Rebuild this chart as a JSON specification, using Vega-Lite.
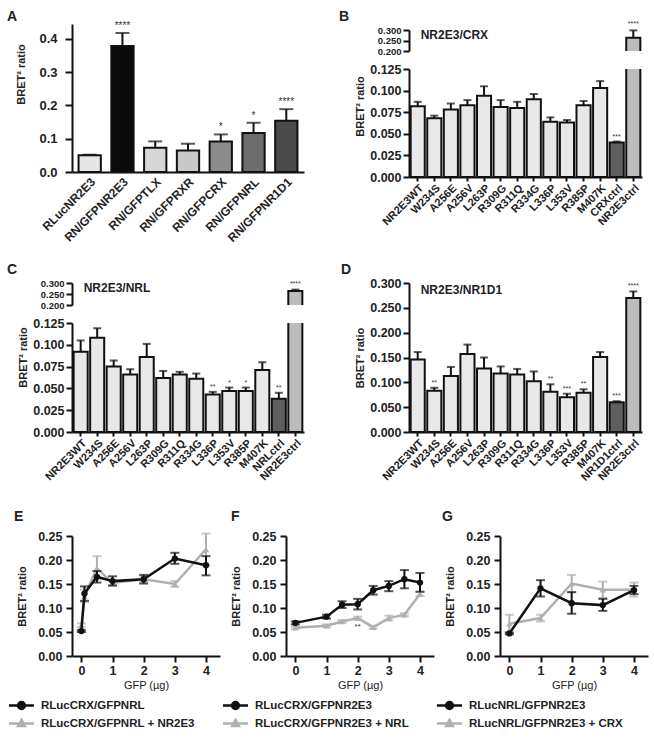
{
"$schema": "https://vega.github.io/schema/vega-lite/v6.json",
"padding": {"left": 7, "top": 10, "right": 5, "bottom": 5},
"config": {
  "view": {"stroke": null},
  "font": "Liberation Sans",
  "axis": {"grid": false, "domainColor": "#111", "domainWidth": 2, "tickColor": "#111", "tickWidth": 2, "tickSize": 6, "labelFont": "Liberation Sans", "labelFontWeight": "bold", "labelFontSize": 12.5, "labelColor": "#222", "labelPadding": 2, "labelOverlap": false, "titleFont": "Liberation Sans", "titleFontWeight": "bold", "titleFontSize": 11, "titleColor": "#222"},
  "title": {"anchor": "start", "frame": "group", "font": "Liberation Sans", "fontSize": 14, "fontWeight": "bold", "color": "#222"}
},
"datasets": {
  "a": [
    {"n": "RLucNR2E3", "v": 0.050, "hi": 0.052, "sig": ""},
    {"n": "RN/GFPNR2E3", "v": 0.379, "hi": 0.418, "sig": "****"},
    {"n": "RN/GFPTLX", "v": 0.073, "hi": 0.092, "sig": ""},
    {"n": "RN/GFPRXR", "v": 0.065, "hi": 0.085, "sig": ""},
    {"n": "RN/GFPCRX", "v": 0.092, "hi": 0.113, "sig": "*"},
    {"n": "RN/GFPNRL", "v": 0.117, "hi": 0.148, "sig": "*"},
    {"n": "RN/GFPNR1D1", "v": 0.154, "hi": 0.189, "sig": "****"}
  ],
  "b": [
    {"n": "NR2E3WT", "k": "m", "v": 0.082, "hi": 0.087, "sig": ""},
    {"n": "W234S", "k": "m", "v": 0.068, "hi": 0.071, "sig": ""},
    {"n": "A256E", "k": "m", "v": 0.078, "hi": 0.085, "sig": ""},
    {"n": "A256V", "k": "m", "v": 0.083, "hi": 0.089, "sig": ""},
    {"n": "L263P", "k": "m", "v": 0.094, "hi": 0.105, "sig": ""},
    {"n": "R309G", "k": "m", "v": 0.081, "hi": 0.089, "sig": ""},
    {"n": "R311Q", "k": "m", "v": 0.080, "hi": 0.087, "sig": ""},
    {"n": "R334G", "k": "m", "v": 0.090, "hi": 0.096, "sig": ""},
    {"n": "L336P", "k": "m", "v": 0.064, "hi": 0.069, "sig": ""},
    {"n": "L353V", "k": "m", "v": 0.063, "hi": 0.066, "sig": ""},
    {"n": "R385P", "k": "m", "v": 0.083, "hi": 0.088, "sig": ""},
    {"n": "M407K", "k": "m", "v": 0.103, "hi": 0.111, "sig": ""},
    {"n": "CRXctrl", "k": "p", "v": 0.040, "hi": 0.041, "sig": "***"},
    {"n": "NR2E3ctrl", "k": "s", "v": 0.263, "hi": 0.298, "sig": "****"}
  ],
  "c": [
    {"n": "NR2E3WT", "k": "m", "v": 0.092, "hi": 0.105, "sig": ""},
    {"n": "W234S", "k": "m", "v": 0.108, "hi": 0.119, "sig": ""},
    {"n": "A256E", "k": "m", "v": 0.075, "hi": 0.082, "sig": ""},
    {"n": "A256V", "k": "m", "v": 0.066, "hi": 0.072, "sig": ""},
    {"n": "L263P", "k": "m", "v": 0.086, "hi": 0.101, "sig": ""},
    {"n": "R309G", "k": "m", "v": 0.062, "hi": 0.070, "sig": ""},
    {"n": "R311Q", "k": "m", "v": 0.066, "hi": 0.069, "sig": ""},
    {"n": "R334G", "k": "m", "v": 0.061, "hi": 0.067, "sig": ""},
    {"n": "L336P", "k": "m", "v": 0.043, "hi": 0.046, "sig": "**"},
    {"n": "L353V", "k": "m", "v": 0.047, "hi": 0.051, "sig": "*"},
    {"n": "R385P", "k": "m", "v": 0.047, "hi": 0.051, "sig": "*"},
    {"n": "M407K", "k": "m", "v": 0.071, "hi": 0.080, "sig": ""},
    {"n": "NRLctrl", "k": "p", "v": 0.038, "hi": 0.045, "sig": "**"},
    {"n": "NR2E3ctrl", "k": "s", "v": 0.264, "hi": 0.270, "sig": "****"}
  ],
  "d": [
    {"n": "NR2E3WT", "k": "m", "v": 0.146, "hi": 0.161, "sig": ""},
    {"n": "W234S", "k": "m", "v": 0.083, "hi": 0.089, "sig": "**"},
    {"n": "A256E", "k": "m", "v": 0.113, "hi": 0.131, "sig": ""},
    {"n": "A256V", "k": "m", "v": 0.157, "hi": 0.176, "sig": ""},
    {"n": "L263P", "k": "m", "v": 0.128, "hi": 0.150, "sig": ""},
    {"n": "R309G", "k": "m", "v": 0.118, "hi": 0.132, "sig": ""},
    {"n": "R311Q", "k": "m", "v": 0.116, "hi": 0.127, "sig": ""},
    {"n": "R334G", "k": "m", "v": 0.102, "hi": 0.122, "sig": ""},
    {"n": "L336P", "k": "m", "v": 0.081, "hi": 0.096, "sig": "**"},
    {"n": "L353V", "k": "m", "v": 0.070, "hi": 0.077, "sig": "***"},
    {"n": "R385P", "k": "m", "v": 0.079, "hi": 0.086, "sig": "**"},
    {"n": "M407K", "k": "m", "v": 0.151, "hi": 0.161, "sig": ""},
    {"n": "NR1D1ctrl", "k": "p", "v": 0.060, "hi": 0.062, "sig": "***"},
    {"n": "NR2E3ctrl", "k": "s", "v": 0.270, "hi": 0.283, "sig": "****"}
  ],
  "e": [
    {"s": "RLucCRX/GFPNRL", "x": 0, "v": 0.052, "lo": 0.050, "hi": 0.054, "sig": ""},
    {"s": "RLucCRX/GFPNRL", "x": 0.1, "v": 0.130, "lo": 0.115, "hi": 0.145, "sig": ""},
    {"s": "RLucCRX/GFPNRL", "x": 0.5, "v": 0.165, "lo": 0.153, "hi": 0.177, "sig": ""},
    {"s": "RLucCRX/GFPNRL", "x": 1, "v": 0.156, "lo": 0.147, "hi": 0.166, "sig": ""},
    {"s": "RLucCRX/GFPNRL", "x": 2, "v": 0.160, "lo": 0.151, "hi": 0.169, "sig": ""},
    {"s": "RLucCRX/GFPNRL", "x": 3, "v": 0.203, "lo": 0.192, "hi": 0.215, "sig": ""},
    {"s": "RLucCRX/GFPNRL", "x": 4, "v": 0.189, "lo": 0.168, "hi": 0.208, "sig": ""},
    {"s": "RLucCRX/GFPNRL + NR2E3", "x": 0, "v": 0.064, "lo": 0.060, "hi": 0.068, "sig": ""},
    {"s": "RLucCRX/GFPNRL + NR2E3", "x": 0.1, "v": 0.125, "lo": 0.112, "hi": 0.138, "sig": ""},
    {"s": "RLucCRX/GFPNRL + NR2E3", "x": 0.5, "v": 0.183, "lo": 0.160, "hi": 0.208, "sig": ""},
    {"s": "RLucCRX/GFPNRL + NR2E3", "x": 1, "v": 0.152, "lo": 0.146, "hi": 0.158, "sig": ""},
    {"s": "RLucCRX/GFPNRL + NR2E3", "x": 2, "v": 0.160, "lo": 0.154, "hi": 0.166, "sig": ""},
    {"s": "RLucCRX/GFPNRL + NR2E3", "x": 3, "v": 0.150, "lo": 0.144, "hi": 0.156, "sig": ""},
    {"s": "RLucCRX/GFPNRL + NR2E3", "x": 4, "v": 0.222, "lo": 0.189, "hi": 0.255, "sig": ""}
  ],
  "f": [
    {"s": "RLucCRX/GFPNR2E3", "x": 0, "v": 0.069, "lo": 0.066, "hi": 0.072, "sig": ""},
    {"s": "RLucCRX/GFPNR2E3", "x": 1, "v": 0.082, "lo": 0.078, "hi": 0.086, "sig": ""},
    {"s": "RLucCRX/GFPNR2E3", "x": 1.5, "v": 0.107, "lo": 0.100, "hi": 0.114, "sig": ""},
    {"s": "RLucCRX/GFPNR2E3", "x": 2, "v": 0.108, "lo": 0.097, "hi": 0.119, "sig": ""},
    {"s": "RLucCRX/GFPNR2E3", "x": 2.5, "v": 0.137, "lo": 0.128, "hi": 0.146, "sig": ""},
    {"s": "RLucCRX/GFPNR2E3", "x": 3, "v": 0.146, "lo": 0.135, "hi": 0.156, "sig": ""},
    {"s": "RLucCRX/GFPNR2E3", "x": 3.5, "v": 0.160, "lo": 0.141, "hi": 0.179, "sig": ""},
    {"s": "RLucCRX/GFPNR2E3", "x": 4, "v": 0.153, "lo": 0.134, "hi": 0.173, "sig": ""},
    {"s": "RLucCRX/GFPNR2E3 + NRL", "x": 0, "v": 0.059, "lo": 0.057, "hi": 0.061, "sig": ""},
    {"s": "RLucCRX/GFPNR2E3 + NRL", "x": 1, "v": 0.063, "lo": 0.060, "hi": 0.066, "sig": ""},
    {"s": "RLucCRX/GFPNR2E3 + NRL", "x": 1.5, "v": 0.072, "lo": 0.069, "hi": 0.075, "sig": ""},
    {"s": "RLucCRX/GFPNR2E3 + NRL", "x": 2, "v": 0.079, "lo": 0.076, "hi": 0.082, "sig": "**"},
    {"s": "RLucCRX/GFPNR2E3 + NRL", "x": 2.5, "v": 0.060, "lo": 0.057, "hi": 0.063, "sig": ""},
    {"s": "RLucCRX/GFPNR2E3 + NRL", "x": 3, "v": 0.079, "lo": 0.074, "hi": 0.084, "sig": ""},
    {"s": "RLucCRX/GFPNR2E3 + NRL", "x": 3.5, "v": 0.086, "lo": 0.083, "hi": 0.089, "sig": ""},
    {"s": "RLucCRX/GFPNR2E3 + NRL", "x": 4, "v": 0.129, "lo": 0.125, "hi": 0.133, "sig": ""}
  ],
  "g": [
    {"s": "RLucNRL/GFPNR2E3", "x": 0, "v": 0.047, "lo": 0.045, "hi": 0.049, "sig": ""},
    {"s": "RLucNRL/GFPNR2E3", "x": 1, "v": 0.141, "lo": 0.124, "hi": 0.158, "sig": ""},
    {"s": "RLucNRL/GFPNR2E3", "x": 2, "v": 0.110, "lo": 0.088, "hi": 0.133, "sig": ""},
    {"s": "RLucNRL/GFPNR2E3", "x": 3, "v": 0.106, "lo": 0.094, "hi": 0.119, "sig": ""},
    {"s": "RLucNRL/GFPNR2E3", "x": 4, "v": 0.137, "lo": 0.129, "hi": 0.146, "sig": ""},
    {"s": "RLucNRL/GFPNR2E3 + CRX", "x": 0, "v": 0.067, "lo": 0.048, "hi": 0.086, "sig": ""},
    {"s": "RLucNRL/GFPNR2E3 + CRX", "x": 1, "v": 0.079, "lo": 0.072, "hi": 0.086, "sig": ""},
    {"s": "RLucNRL/GFPNR2E3 + CRX", "x": 2, "v": 0.151, "lo": 0.133, "hi": 0.169, "sig": ""},
    {"s": "RLucNRL/GFPNR2E3 + CRX", "x": 3, "v": 0.138, "lo": 0.121, "hi": 0.155, "sig": ""},
    {"s": "RLucNRL/GFPNR2E3 + CRX", "x": 4, "v": 0.138, "lo": 0.124, "hi": 0.153, "sig": ""}
  ]
},
"spacing": 26,
"resolve": {"scale": {"color": "independent", "fill": "independent"}, "legend": {"color": "independent"}},
"vconcat": [
 {
  "spacing": 18,
  "resolve": {"scale": {"color": "independent", "fill": "independent"}},
  "vconcat": [
  {
    "spacing": 35,
    "resolve": {"scale": {"color": "independent", "fill": "independent"}},
    "hconcat": [
      {
        "width": 232, "height": 148,
        "title": {"text": "A", "dx": -65, "offset": -3.5},
        "data": {"name": "a"},
        "encoding": {"x": {"field": "n", "type": "nominal", "sort": null, "scale": {"paddingInner": 0.32, "paddingOuter": 0.2}, "axis": {"title": null, "labelAngle": -45, "ticks": false, "labelFontSize": 12, "labelPadding": 4}}},
        "layer": [
          {"mark": {"type": "bar", "stroke": "#111", "strokeWidth": 2}, "encoding": {"y": {"field": "v", "type": "quantitative", "scale": {"domain": [0, 0.445], "nice": false}, "title": "BRET² ratio", "axis": {"values": [0, 0.1, 0.2, 0.3, 0.4], "format": ".1f", "titleY": 50, "labelFontSize": 13, "labelPadding": 8, "tickSize": 7, "titlePadding": 12, "tickCount": 20}}, "fill": {"field": "n", "type": "nominal", "scale": {"domain": ["RLucNR2E3", "RN/GFPNR2E3", "RN/GFPTLX", "RN/GFPRXR", "RN/GFPCRX", "RN/GFPNRL", "RN/GFPNR1D1"], "range": ["#e6e6e6", "#0a0a0a", "#d6d6d6", "#c8c8c8", "#8c8c8c", "#6c6c6c", "#4a4a4a"]}, "legend": null}}},
          {"mark": {"type": "rule", "strokeWidth": 2, "color": "#111"}, "encoding": {"y": {"field": "v", "type": "quantitative", "scale": {"domain": [0, 0.445], "nice": false}, "title": "BRET² ratio", "axis": {"values": [0, 0.1, 0.2, 0.3, 0.4], "format": ".1f", "titleY": 50, "labelFontSize": 13, "labelPadding": 8, "tickSize": 7, "titlePadding": 12, "tickCount": 20}}, "y2": {"field": "hi"}}},
          {"mark": {"type": "tick", "thickness": 2, "size": 14, "color": "#111"}, "encoding": {"y": {"field": "hi", "type": "quantitative", "scale": {"domain": [0, 0.445], "nice": false}, "title": "BRET² ratio", "axis": {"values": [0, 0.1, 0.2, 0.3, 0.4], "format": ".1f", "titleY": 50, "labelFontSize": 13, "labelPadding": 8, "tickSize": 7, "titlePadding": 12, "tickCount": 20}}}},
          {"mark": {"type": "text", "baseline": "bottom", "dy": -2, "fontSize": 10, "color": "#333"}, "encoding": {"y": {"field": "hi", "type": "quantitative", "scale": {"domain": [0, 0.445], "nice": false}, "title": "BRET² ratio", "axis": {"values": [0, 0.1, 0.2, 0.3, 0.4], "format": ".1f", "titleY": 50, "labelFontSize": 13, "labelPadding": 8, "tickSize": 7, "titlePadding": 12, "tickCount": 20}}, "text": {"field": "sig"}}}
        ]
      },
      {
        "bounds": "flush", "spacing": 5,
        "vconcat": [
          {"width": 1, "height": 1, "data": {"values": []}, "mark": "point", "encoding": {}},
          {
            "bounds": "flush", "spacing": 18,
            "vconcat": [
              {
                "width": 233, "height": 21,
                "title": {"text": "B", "dx": -70, "offset": -4},
                "data": {"name": "b"},
                "encoding": {"x": {"field": "n", "type": "nominal", "sort": null, "scale": {"paddingInner": 0.15, "paddingOuter": 0.1}, "axis": null}},
                "layer": [
                  {"mark": {"type": "bar", "stroke": "#111", "strokeWidth": 2, "clip": true}, "encoding": {"y": {"field": "v", "type": "quantitative", "scale": {"domain": [0.2, 0.3], "nice": false, "zero": false}, "title": null, "axis": {"values": [0.2, 0.25, 0.3], "format": ".3f", "labelFontSize": 9.5, "labelOverlap": false, "tickCount": 20}}, "fill": {"field": "k", "type": "nominal", "scale": {"domain": ["m", "p", "s"], "range": ["#e8e8e8", "#5e5e5e", "#bcbcbc"]}, "legend": null}}},
                  {"transform": [{"filter": "datum.hi > 0.2"}], "mark": {"type": "rule", "strokeWidth": 2, "color": "#111"}, "encoding": {"y": {"field": "v", "type": "quantitative", "scale": {"domain": [0.2, 0.3], "nice": false, "zero": false}, "title": null, "axis": {"values": [0.2, 0.25, 0.3], "format": ".3f", "labelFontSize": 9.5, "labelOverlap": false, "tickCount": 20}}, "y2": {"field": "hi"}}},
                  {"transform": [{"filter": "datum.hi > 0.2"}], "mark": {"type": "tick", "thickness": 2, "size": 8, "color": "#111"}, "encoding": {"y": {"field": "hi", "type": "quantitative", "scale": {"domain": [0.2, 0.3], "nice": false, "zero": false}, "title": null, "axis": {"values": [0.2, 0.25, 0.3], "format": ".3f", "labelFontSize": 9.5, "labelOverlap": false, "tickCount": 20}}}},
                  {"transform": [{"filter": "datum.hi > 0.2"}], "mark": {"type": "text", "baseline": "bottom", "dy": -3, "fontSize": 7, "color": "#333"}, "encoding": {"y": {"field": "hi", "type": "quantitative", "scale": {"domain": [0.2, 0.3], "nice": false, "zero": false}, "title": null, "axis": {"values": [0.2, 0.25, 0.3], "format": ".3f", "labelFontSize": 9.5, "labelOverlap": false, "tickCount": 20}}, "text": {"field": "sig"}}},
                  {"data": {"values": [{"t": "NR2E3/CRX"}]}, "mark": {"type": "text", "align": "left", "baseline": "top", "dx": 3, "dy": 0, "fontSize": 12, "fontWeight": "bold", "color": "#222"}, "encoding": {"x": {"datum": "NR2E3WT"}, "y": {"datum": 0.3, "type": "quantitative", "scale": {"domain": [0.2, 0.3], "nice": false, "zero": false}, "title": null, "axis": {"values": [0.2, 0.25, 0.3], "format": ".3f", "labelFontSize": 9.5, "labelOverlap": false, "tickCount": 20}}, "text": {"field": "t"}}}
                ]
              },
              {
                "width": 233, "height": 108,
                "data": {"name": "b"},
                "encoding": {"x": {"field": "n", "type": "nominal", "sort": null, "scale": {"paddingInner": 0.15, "paddingOuter": 0.1}, "axis": {"title": null, "labelAngle": -45, "labelFontSize": 11, "tickSize": 4, "labelPadding": 1}}},
                "layer": [
                  {"mark": {"type": "bar", "stroke": "#111", "strokeWidth": 2, "clip": true}, "encoding": {"y": {"field": "v", "type": "quantitative", "scale": {"domain": [0, 0.125], "nice": false}, "title": "BRET² ratio", "axis": {"values": [0, 0.025, 0.05, 0.075, 0.1, 0.125], "format": ".3f", "titleY": 37, "tickCount": 20}}, "fill": {"field": "k", "type": "nominal", "scale": {"domain": ["m", "p", "s"], "range": ["#e8e8e8", "#5e5e5e", "#bcbcbc"]}, "legend": null}}},
                  {"transform": [{"filter": "datum.hi < 0.125"}], "mark": {"type": "rule", "strokeWidth": 2, "color": "#111"}, "encoding": {"y": {"field": "v", "type": "quantitative", "scale": {"domain": [0, 0.125], "nice": false}, "title": "BRET² ratio", "axis": {"values": [0, 0.025, 0.05, 0.075, 0.1, 0.125], "format": ".3f", "titleY": 37, "tickCount": 20}}, "y2": {"field": "hi"}}},
                  {"transform": [{"filter": "datum.hi < 0.125"}], "mark": {"type": "tick", "thickness": 2, "size": 8, "color": "#111"}, "encoding": {"y": {"field": "hi", "type": "quantitative", "scale": {"domain": [0, 0.125], "nice": false}, "title": "BRET² ratio", "axis": {"values": [0, 0.025, 0.05, 0.075, 0.1, 0.125], "format": ".3f", "titleY": 37, "tickCount": 20}}}},
                  {"transform": [{"filter": "datum.hi < 0.125"}], "mark": {"type": "text", "baseline": "bottom", "dy": -2, "fontSize": 7, "color": "#333"}, "encoding": {"y": {"field": "hi", "type": "quantitative", "scale": {"domain": [0, 0.125], "nice": false}, "title": "BRET² ratio", "axis": {"values": [0, 0.025, 0.05, 0.075, 0.1, 0.125], "format": ".3f", "titleY": 37, "tickCount": 20}}, "text": {"field": "sig"}}}
                ]
              }
            ]
          }
        ]
      }
    ]
  },
  {
    "spacing": 37,
    "resolve": {"scale": {"color": "independent", "fill": "independent"}},
    "hconcat": [
      {
        "bounds": "flush", "spacing": 18,
        "vconcat": [
          {
            "width": 232, "height": 22,
            "title": {"text": "C", "dx": -65, "offset": 1.5},
            "data": {"name": "c"},
            "encoding": {"x": {"field": "n", "type": "nominal", "sort": null, "scale": {"paddingInner": 0.15, "paddingOuter": 0.1}, "axis": null}},
            "layer": [
              {"mark": {"type": "bar", "stroke": "#111", "strokeWidth": 2, "clip": true}, "encoding": {"y": {"field": "v", "type": "quantitative", "scale": {"domain": [0.2, 0.3], "nice": false, "zero": false}, "title": null, "axis": {"values": [0.2, 0.25, 0.3], "format": ".3f", "labelFontSize": 9.5, "labelOverlap": false, "tickCount": 20}}, "fill": {"field": "k", "type": "nominal", "scale": {"domain": ["m", "p", "s"], "range": ["#e8e8e8", "#5e5e5e", "#bcbcbc"]}, "legend": null}}},
              {"transform": [{"filter": "datum.hi > 0.2"}], "mark": {"type": "rule", "strokeWidth": 2, "color": "#111"}, "encoding": {"y": {"field": "v", "type": "quantitative", "scale": {"domain": [0.2, 0.3], "nice": false, "zero": false}, "title": null, "axis": {"values": [0.2, 0.25, 0.3], "format": ".3f", "labelFontSize": 9.5, "labelOverlap": false, "tickCount": 20}}, "y2": {"field": "hi"}}},
              {"transform": [{"filter": "datum.hi > 0.2"}], "mark": {"type": "tick", "thickness": 2, "size": 8, "color": "#111"}, "encoding": {"y": {"field": "hi", "type": "quantitative", "scale": {"domain": [0.2, 0.3], "nice": false, "zero": false}, "title": null, "axis": {"values": [0.2, 0.25, 0.3], "format": ".3f", "labelFontSize": 9.5, "labelOverlap": false, "tickCount": 20}}}},
              {"transform": [{"filter": "datum.hi > 0.2"}], "mark": {"type": "text", "baseline": "bottom", "dy": -3, "fontSize": 7, "color": "#333"}, "encoding": {"y": {"field": "hi", "type": "quantitative", "scale": {"domain": [0.2, 0.3], "nice": false, "zero": false}, "title": null, "axis": {"values": [0.2, 0.25, 0.3], "format": ".3f", "labelFontSize": 9.5, "labelOverlap": false, "tickCount": 20}}, "text": {"field": "sig"}}},
              {"data": {"values": [{"t": "NR2E3/NRL"}]}, "mark": {"type": "text", "align": "left", "baseline": "top", "dx": 3, "dy": 0, "fontSize": 12, "fontWeight": "bold", "color": "#222"}, "encoding": {"x": {"datum": "NR2E3WT"}, "y": {"datum": 0.3, "type": "quantitative", "scale": {"domain": [0.2, 0.3], "nice": false, "zero": false}, "title": null, "axis": {"values": [0.2, 0.25, 0.3], "format": ".3f", "labelFontSize": 9.5, "labelOverlap": false, "tickCount": 20}}, "text": {"field": "t"}}}
            ]
          },
          {
            "width": 232, "height": 109,
            "data": {"name": "c"},
            "encoding": {"x": {"field": "n", "type": "nominal", "sort": null, "scale": {"paddingInner": 0.15, "paddingOuter": 0.1}, "axis": {"title": null, "labelAngle": -45, "labelFontSize": 11, "tickSize": 4, "labelPadding": 1}}},
            "layer": [
              {"mark": {"type": "bar", "stroke": "#111", "strokeWidth": 2, "clip": true}, "encoding": {"y": {"field": "v", "type": "quantitative", "scale": {"domain": [0, 0.125], "nice": false}, "title": "BRET² ratio", "axis": {"values": [0, 0.025, 0.05, 0.075, 0.1, 0.125], "format": ".3f", "titleY": 34, "tickCount": 20}}, "fill": {"field": "k", "type": "nominal", "scale": {"domain": ["m", "p", "s"], "range": ["#e8e8e8", "#5e5e5e", "#bcbcbc"]}, "legend": null}}},
              {"transform": [{"filter": "datum.hi < 0.125"}], "mark": {"type": "rule", "strokeWidth": 2, "color": "#111"}, "encoding": {"y": {"field": "v", "type": "quantitative", "scale": {"domain": [0, 0.125], "nice": false}, "title": "BRET² ratio", "axis": {"values": [0, 0.025, 0.05, 0.075, 0.1, 0.125], "format": ".3f", "titleY": 34, "tickCount": 20}}, "y2": {"field": "hi"}}},
              {"transform": [{"filter": "datum.hi < 0.125"}], "mark": {"type": "tick", "thickness": 2, "size": 8, "color": "#111"}, "encoding": {"y": {"field": "hi", "type": "quantitative", "scale": {"domain": [0, 0.125], "nice": false}, "title": "BRET² ratio", "axis": {"values": [0, 0.025, 0.05, 0.075, 0.1, 0.125], "format": ".3f", "titleY": 34, "tickCount": 20}}}},
              {"transform": [{"filter": "datum.hi < 0.125"}], "mark": {"type": "text", "baseline": "bottom", "dy": -2, "fontSize": 7, "color": "#333"}, "encoding": {"y": {"field": "hi", "type": "quantitative", "scale": {"domain": [0, 0.125], "nice": false}, "title": "BRET² ratio", "axis": {"values": [0, 0.025, 0.05, 0.075, 0.1, 0.125], "format": ".3f", "titleY": 34, "tickCount": 20}}, "text": {"field": "sig"}}}
            ]
          }
        ]
      },
      {
        "width": 233, "height": 149,
        "title": {"text": "D", "dx": -68, "offset": 0},
        "data": {"name": "d"},
        "encoding": {"x": {"field": "n", "type": "nominal", "sort": null, "scale": {"paddingInner": 0.15, "paddingOuter": 0.1}, "axis": {"title": null, "labelAngle": -45, "labelFontSize": 11, "tickSize": 4, "labelPadding": 1}}},
        "layer": [
          {"mark": {"type": "bar", "stroke": "#111", "strokeWidth": 2}, "encoding": {"y": {"field": "v", "type": "quantitative", "scale": {"domain": [0, 0.3], "nice": false}, "title": "BRET² ratio", "axis": {"values": [0, 0.05, 0.1, 0.15, 0.2, 0.25, 0.3], "format": ".3f", "tickCount": 20}}, "fill": {"field": "k", "type": "nominal", "scale": {"domain": ["m", "p", "s"], "range": ["#e8e8e8", "#5e5e5e", "#bcbcbc"]}, "legend": null}}},
          {"mark": {"type": "rule", "strokeWidth": 2, "color": "#111"}, "encoding": {"y": {"field": "v", "type": "quantitative", "scale": {"domain": [0, 0.3], "nice": false}, "title": "BRET² ratio", "axis": {"values": [0, 0.05, 0.1, 0.15, 0.2, 0.25, 0.3], "format": ".3f", "tickCount": 20}}, "y2": {"field": "hi"}}},
          {"mark": {"type": "tick", "thickness": 2, "size": 8, "color": "#111"}, "encoding": {"y": {"field": "hi", "type": "quantitative", "scale": {"domain": [0, 0.3], "nice": false}, "title": "BRET² ratio", "axis": {"values": [0, 0.05, 0.1, 0.15, 0.2, 0.25, 0.3], "format": ".3f", "tickCount": 20}}}},
          {"mark": {"type": "text", "baseline": "bottom", "dy": -2, "fontSize": 7, "color": "#333"}, "encoding": {"y": {"field": "hi", "type": "quantitative", "scale": {"domain": [0, 0.3], "nice": false}, "title": "BRET² ratio", "axis": {"values": [0, 0.05, 0.1, 0.15, 0.2, 0.25, 0.3], "format": ".3f", "tickCount": 20}}, "text": {"field": "sig"}}},
          {"data": {"values": [{"t": "NR2E3/NR1D1"}]}, "mark": {"type": "text", "align": "left", "baseline": "top", "dx": 3, "dy": 2, "fontSize": 12, "fontWeight": "bold", "color": "#222"}, "encoding": {"x": {"datum": "NR2E3WT"}, "y": {"datum": 0.3, "type": "quantitative", "scale": {"domain": [0, 0.3], "nice": false}, "title": "BRET² ratio", "axis": {"values": [0, 0.05, 0.1, 0.15, 0.2, 0.25, 0.3], "format": ".3f", "tickCount": 20}}, "text": {"field": "t"}}}
        ]
      }
    ]
  }
  ]
 },
  {
    "bounds": "flush", "spacing": 66,
    "resolve": {"scale": {"color": "independent", "fill": "independent"}, "legend": {"color": "independent"}},
    "hconcat": [
      {
        "width": 148, "height": 120,
        "title": {"text": "E", "dx": -58, "offset": 6.5},
        "data": {"name": "e"},
        "encoding": {
          "x": {"field": "x", "type": "quantitative", "scale": {"domain": [-0.3, 4.45], "nice": false, "zero": false}, "axis": {"values": [0, 1, 2, 3, 4], "format": "d", "title": "GFP (µg)", "titleFontWeight": "normal", "labelFontSize": 12.5, "titlePadding": 3, "tickCount": 20}},
          "color": {"field": "s", "type": "nominal", "scale": {"domain": ["RLucCRX/GFPNRL", "RLucCRX/GFPNRL + NR2E3"], "range": ["#111111", "#b0b0b0"]}, "legend": {"orient": "none", "legendX": -59, "legendY": 161, "title": null, "direction": "vertical", "padding": 0, "rowPadding": 0, "labelFontSize": 11.5, "labelFontWeight": "bold", "labelColor": "#222", "labelFont": "Liberation Sans", "labelOffset": 11, "symbolSize": 196, "symbolStrokeWidth": 2.5, "encode": {"symbols": {"update": {"shape": {"signal": "indexof(datum.value, '+') >= 0 ? 'M-1.79,0H1.79M0,-0.51L0.48,0.34L-0.48,0.34Z' : 'M-1.79,0H1.79M0.49,0A0.49,0.49,0,1,1,-0.49,0A0.49,0.49,0,1,1,0.49,0Z'"}, "fill": {"signal": "indexof(datum.value, '+') >= 0 ? '#b0b0b0' : '#111111'"}, "stroke": {"signal": "indexof(datum.value, '+') >= 0 ? '#b0b0b0' : '#111111'"}, "size": {"value": 196}, "opacity": {"value": 1}}}}}}
        },
        "layer": [
          {"transform": [{"filter": "indexof(datum.s, '+') >= 0"}], "layer": [
            {"mark": {"type": "rule", "strokeWidth": 2}, "encoding": {"y": {"field": "lo", "type": "quantitative", "scale": {"domain": [0, 0.25], "nice": false}, "title": "BRET² ratio", "axis": {"values": [0, 0.05, 0.1, 0.15, 0.2, 0.25], "format": ".2f", "tickCount": 20, "labelPadding": 4, "titlePadding": 10}}, "y2": {"field": "hi"}}},
            {"mark": {"type": "tick", "orient": "horizontal", "size": 9, "thickness": 2}, "encoding": {"y": {"field": "lo", "type": "quantitative", "scale": {"domain": [0, 0.25], "nice": false}, "title": "BRET² ratio", "axis": {"values": [0, 0.05, 0.1, 0.15, 0.2, 0.25], "format": ".2f", "tickCount": 20, "labelPadding": 4, "titlePadding": 10}}}},
            {"mark": {"type": "tick", "orient": "horizontal", "size": 9, "thickness": 2}, "encoding": {"y": {"field": "hi", "type": "quantitative", "scale": {"domain": [0, 0.25], "nice": false}, "title": "BRET² ratio", "axis": {"values": [0, 0.05, 0.1, 0.15, 0.2, 0.25], "format": ".2f", "tickCount": 20, "labelPadding": 4, "titlePadding": 10}}}},
            {"mark": {"type": "line", "strokeWidth": 2.5}, "encoding": {"y": {"field": "v", "type": "quantitative", "scale": {"domain": [0, 0.25], "nice": false}, "title": "BRET² ratio", "axis": {"values": [0, 0.05, 0.1, 0.15, 0.2, 0.25], "format": ".2f", "tickCount": 20, "labelPadding": 4, "titlePadding": 10}}}},
            {"mark": {"type": "point", "shape": "triangle-up", "filled": true, "size": 40, "opacity": 1}, "encoding": {"y": {"field": "v", "type": "quantitative", "scale": {"domain": [0, 0.25], "nice": false}, "title": "BRET² ratio", "axis": {"values": [0, 0.05, 0.1, 0.15, 0.2, 0.25], "format": ".2f", "tickCount": 20, "labelPadding": 4, "titlePadding": 10}}}}
          ]},
          {"transform": [{"filter": "indexof(datum.s, '+') < 0"}], "layer": [
            {"mark": {"type": "rule", "strokeWidth": 2}, "encoding": {"y": {"field": "lo", "type": "quantitative", "scale": {"domain": [0, 0.25], "nice": false}, "title": "BRET² ratio", "axis": {"values": [0, 0.05, 0.1, 0.15, 0.2, 0.25], "format": ".2f", "tickCount": 20, "labelPadding": 4, "titlePadding": 10}}, "y2": {"field": "hi"}}},
            {"mark": {"type": "tick", "orient": "horizontal", "size": 9, "thickness": 2}, "encoding": {"y": {"field": "lo", "type": "quantitative", "scale": {"domain": [0, 0.25], "nice": false}, "title": "BRET² ratio", "axis": {"values": [0, 0.05, 0.1, 0.15, 0.2, 0.25], "format": ".2f", "tickCount": 20, "labelPadding": 4, "titlePadding": 10}}}},
            {"mark": {"type": "tick", "orient": "horizontal", "size": 9, "thickness": 2}, "encoding": {"y": {"field": "hi", "type": "quantitative", "scale": {"domain": [0, 0.25], "nice": false}, "title": "BRET² ratio", "axis": {"values": [0, 0.05, 0.1, 0.15, 0.2, 0.25], "format": ".2f", "tickCount": 20, "labelPadding": 4, "titlePadding": 10}}}},
            {"mark": {"type": "line", "strokeWidth": 2.5}, "encoding": {"y": {"field": "v", "type": "quantitative", "scale": {"domain": [0, 0.25], "nice": false}, "title": "BRET² ratio", "axis": {"values": [0, 0.05, 0.1, 0.15, 0.2, 0.25], "format": ".2f", "tickCount": 20, "labelPadding": 4, "titlePadding": 10}}}},
            {"mark": {"type": "point", "shape": "circle", "filled": true, "size": 40, "opacity": 1}, "encoding": {"y": {"field": "v", "type": "quantitative", "scale": {"domain": [0, 0.25], "nice": false}, "title": "BRET² ratio", "axis": {"values": [0, 0.05, 0.1, 0.15, 0.2, 0.25], "format": ".2f", "tickCount": 20, "labelPadding": 4, "titlePadding": 10}}}}
          ]}
        ]
      },
      {
        "width": 148, "height": 120,
        "title": {"text": "F", "dx": -55, "offset": 6.5},
        "data": {"name": "f"},
        "encoding": {
          "x": {"field": "x", "type": "quantitative", "scale": {"domain": [-0.3, 4.45], "nice": false, "zero": false}, "axis": {"values": [0, 1, 2, 3, 4], "format": "d", "title": "GFP (µg)", "titleFontWeight": "normal", "labelFontSize": 12.5, "titlePadding": 3, "tickCount": 20}},
          "color": {"field": "s", "type": "nominal", "scale": {"domain": ["RLucCRX/GFPNR2E3", "RLucCRX/GFPNR2E3 + NRL"], "range": ["#111111", "#b0b0b0"]}, "legend": {"orient": "none", "legendX": -59, "legendY": 161, "title": null, "direction": "vertical", "padding": 0, "rowPadding": 0, "labelFontSize": 11.5, "labelFontWeight": "bold", "labelColor": "#222", "labelFont": "Liberation Sans", "labelOffset": 11, "symbolSize": 196, "symbolStrokeWidth": 2.5, "encode": {"symbols": {"update": {"shape": {"signal": "indexof(datum.value, '+') >= 0 ? 'M-1.79,0H1.79M0,-0.51L0.48,0.34L-0.48,0.34Z' : 'M-1.79,0H1.79M0.49,0A0.49,0.49,0,1,1,-0.49,0A0.49,0.49,0,1,1,0.49,0Z'"}, "fill": {"signal": "indexof(datum.value, '+') >= 0 ? '#b0b0b0' : '#111111'"}, "stroke": {"signal": "indexof(datum.value, '+') >= 0 ? '#b0b0b0' : '#111111'"}, "size": {"value": 196}, "opacity": {"value": 1}}}}}}
        },
        "layer": [
          {"transform": [{"filter": "indexof(datum.s, '+') >= 0"}], "layer": [
            {"mark": {"type": "rule", "strokeWidth": 2}, "encoding": {"y": {"field": "lo", "type": "quantitative", "scale": {"domain": [0, 0.25], "nice": false}, "title": "BRET² ratio", "axis": {"values": [0, 0.05, 0.1, 0.15, 0.2, 0.25], "format": ".2f", "tickCount": 20, "labelPadding": 4, "titlePadding": 10}}, "y2": {"field": "hi"}}},
            {"mark": {"type": "tick", "orient": "horizontal", "size": 9, "thickness": 2}, "encoding": {"y": {"field": "lo", "type": "quantitative", "scale": {"domain": [0, 0.25], "nice": false}, "title": "BRET² ratio", "axis": {"values": [0, 0.05, 0.1, 0.15, 0.2, 0.25], "format": ".2f", "tickCount": 20, "labelPadding": 4, "titlePadding": 10}}}},
            {"mark": {"type": "tick", "orient": "horizontal", "size": 9, "thickness": 2}, "encoding": {"y": {"field": "hi", "type": "quantitative", "scale": {"domain": [0, 0.25], "nice": false}, "title": "BRET² ratio", "axis": {"values": [0, 0.05, 0.1, 0.15, 0.2, 0.25], "format": ".2f", "tickCount": 20, "labelPadding": 4, "titlePadding": 10}}}},
            {"mark": {"type": "line", "strokeWidth": 2.5}, "encoding": {"y": {"field": "v", "type": "quantitative", "scale": {"domain": [0, 0.25], "nice": false}, "title": "BRET² ratio", "axis": {"values": [0, 0.05, 0.1, 0.15, 0.2, 0.25], "format": ".2f", "tickCount": 20, "labelPadding": 4, "titlePadding": 10}}}},
            {"mark": {"type": "point", "shape": "triangle-up", "filled": true, "size": 40, "opacity": 1}, "encoding": {"y": {"field": "v", "type": "quantitative", "scale": {"domain": [0, 0.25], "nice": false}, "title": "BRET² ratio", "axis": {"values": [0, 0.05, 0.1, 0.15, 0.2, 0.25], "format": ".2f", "tickCount": 20, "labelPadding": 4, "titlePadding": 10}}}},
            {"transform": [{"filter": "datum.sig != ''"}], "mark": {"type": "text", "baseline": "top", "dy": 3, "fontSize": 8}, "encoding": {"y": {"field": "lo", "type": "quantitative", "scale": {"domain": [0, 0.25], "nice": false}, "title": "BRET² ratio", "axis": {"values": [0, 0.05, 0.1, 0.15, 0.2, 0.25], "format": ".2f", "tickCount": 20, "labelPadding": 4, "titlePadding": 10}}, "text": {"field": "sig"}, "color": {"value": "#333"}}}
          ]},
          {"transform": [{"filter": "indexof(datum.s, '+') < 0"}], "layer": [
            {"mark": {"type": "rule", "strokeWidth": 2}, "encoding": {"y": {"field": "lo", "type": "quantitative", "scale": {"domain": [0, 0.25], "nice": false}, "title": "BRET² ratio", "axis": {"values": [0, 0.05, 0.1, 0.15, 0.2, 0.25], "format": ".2f", "tickCount": 20, "labelPadding": 4, "titlePadding": 10}}, "y2": {"field": "hi"}}},
            {"mark": {"type": "tick", "orient": "horizontal", "size": 9, "thickness": 2}, "encoding": {"y": {"field": "lo", "type": "quantitative", "scale": {"domain": [0, 0.25], "nice": false}, "title": "BRET² ratio", "axis": {"values": [0, 0.05, 0.1, 0.15, 0.2, 0.25], "format": ".2f", "tickCount": 20, "labelPadding": 4, "titlePadding": 10}}}},
            {"mark": {"type": "tick", "orient": "horizontal", "size": 9, "thickness": 2}, "encoding": {"y": {"field": "hi", "type": "quantitative", "scale": {"domain": [0, 0.25], "nice": false}, "title": "BRET² ratio", "axis": {"values": [0, 0.05, 0.1, 0.15, 0.2, 0.25], "format": ".2f", "tickCount": 20, "labelPadding": 4, "titlePadding": 10}}}},
            {"mark": {"type": "line", "strokeWidth": 2.5}, "encoding": {"y": {"field": "v", "type": "quantitative", "scale": {"domain": [0, 0.25], "nice": false}, "title": "BRET² ratio", "axis": {"values": [0, 0.05, 0.1, 0.15, 0.2, 0.25], "format": ".2f", "tickCount": 20, "labelPadding": 4, "titlePadding": 10}}}},
            {"mark": {"type": "point", "shape": "circle", "filled": true, "size": 40, "opacity": 1}, "encoding": {"y": {"field": "v", "type": "quantitative", "scale": {"domain": [0, 0.25], "nice": false}, "title": "BRET² ratio", "axis": {"values": [0, 0.05, 0.1, 0.15, 0.2, 0.25], "format": ".2f", "tickCount": 20, "labelPadding": 4, "titlePadding": 10}}}}
          ]}
        ]
      },
      {
        "width": 148, "height": 120,
        "title": {"text": "G", "dx": -58, "offset": 6.5},
        "data": {"name": "g"},
        "encoding": {
          "x": {"field": "x", "type": "quantitative", "scale": {"domain": [-0.3, 4.45], "nice": false, "zero": false}, "axis": {"values": [0, 1, 2, 3, 4], "format": "d", "title": "GFP (µg)", "titleFontWeight": "normal", "labelFontSize": 12.5, "titlePadding": 3, "tickCount": 20}},
          "color": {"field": "s", "type": "nominal", "scale": {"domain": ["RLucNRL/GFPNR2E3", "RLucNRL/GFPNR2E3 + CRX"], "range": ["#111111", "#b0b0b0"]}, "legend": {"orient": "none", "legendX": -59, "legendY": 161, "title": null, "direction": "vertical", "padding": 0, "rowPadding": 0, "labelFontSize": 11.5, "labelFontWeight": "bold", "labelColor": "#222", "labelFont": "Liberation Sans", "labelOffset": 11, "symbolSize": 196, "symbolStrokeWidth": 2.5, "encode": {"symbols": {"update": {"shape": {"signal": "indexof(datum.value, '+') >= 0 ? 'M-1.79,0H1.79M0,-0.51L0.48,0.34L-0.48,0.34Z' : 'M-1.79,0H1.79M0.49,0A0.49,0.49,0,1,1,-0.49,0A0.49,0.49,0,1,1,0.49,0Z'"}, "fill": {"signal": "indexof(datum.value, '+') >= 0 ? '#b0b0b0' : '#111111'"}, "stroke": {"signal": "indexof(datum.value, '+') >= 0 ? '#b0b0b0' : '#111111'"}, "size": {"value": 196}, "opacity": {"value": 1}}}}}}
        },
        "layer": [
          {"transform": [{"filter": "indexof(datum.s, '+') >= 0"}], "layer": [
            {"mark": {"type": "rule", "strokeWidth": 2}, "encoding": {"y": {"field": "lo", "type": "quantitative", "scale": {"domain": [0, 0.25], "nice": false}, "title": "BRET² ratio", "axis": {"values": [0, 0.05, 0.1, 0.15, 0.2, 0.25], "format": ".2f", "tickCount": 20, "labelPadding": 4, "titlePadding": 10}}, "y2": {"field": "hi"}}},
            {"mark": {"type": "tick", "orient": "horizontal", "size": 9, "thickness": 2}, "encoding": {"y": {"field": "lo", "type": "quantitative", "scale": {"domain": [0, 0.25], "nice": false}, "title": "BRET² ratio", "axis": {"values": [0, 0.05, 0.1, 0.15, 0.2, 0.25], "format": ".2f", "tickCount": 20, "labelPadding": 4, "titlePadding": 10}}}},
            {"mark": {"type": "tick", "orient": "horizontal", "size": 9, "thickness": 2}, "encoding": {"y": {"field": "hi", "type": "quantitative", "scale": {"domain": [0, 0.25], "nice": false}, "title": "BRET² ratio", "axis": {"values": [0, 0.05, 0.1, 0.15, 0.2, 0.25], "format": ".2f", "tickCount": 20, "labelPadding": 4, "titlePadding": 10}}}},
            {"mark": {"type": "line", "strokeWidth": 2.5}, "encoding": {"y": {"field": "v", "type": "quantitative", "scale": {"domain": [0, 0.25], "nice": false}, "title": "BRET² ratio", "axis": {"values": [0, 0.05, 0.1, 0.15, 0.2, 0.25], "format": ".2f", "tickCount": 20, "labelPadding": 4, "titlePadding": 10}}}},
            {"mark": {"type": "point", "shape": "triangle-up", "filled": true, "size": 40, "opacity": 1}, "encoding": {"y": {"field": "v", "type": "quantitative", "scale": {"domain": [0, 0.25], "nice": false}, "title": "BRET² ratio", "axis": {"values": [0, 0.05, 0.1, 0.15, 0.2, 0.25], "format": ".2f", "tickCount": 20, "labelPadding": 4, "titlePadding": 10}}}}
          ]},
          {"transform": [{"filter": "indexof(datum.s, '+') < 0"}], "layer": [
            {"mark": {"type": "rule", "strokeWidth": 2}, "encoding": {"y": {"field": "lo", "type": "quantitative", "scale": {"domain": [0, 0.25], "nice": false}, "title": "BRET² ratio", "axis": {"values": [0, 0.05, 0.1, 0.15, 0.2, 0.25], "format": ".2f", "tickCount": 20, "labelPadding": 4, "titlePadding": 10}}, "y2": {"field": "hi"}}},
            {"mark": {"type": "tick", "orient": "horizontal", "size": 9, "thickness": 2}, "encoding": {"y": {"field": "lo", "type": "quantitative", "scale": {"domain": [0, 0.25], "nice": false}, "title": "BRET² ratio", "axis": {"values": [0, 0.05, 0.1, 0.15, 0.2, 0.25], "format": ".2f", "tickCount": 20, "labelPadding": 4, "titlePadding": 10}}}},
            {"mark": {"type": "tick", "orient": "horizontal", "size": 9, "thickness": 2}, "encoding": {"y": {"field": "hi", "type": "quantitative", "scale": {"domain": [0, 0.25], "nice": false}, "title": "BRET² ratio", "axis": {"values": [0, 0.05, 0.1, 0.15, 0.2, 0.25], "format": ".2f", "tickCount": 20, "labelPadding": 4, "titlePadding": 10}}}},
            {"mark": {"type": "line", "strokeWidth": 2.5}, "encoding": {"y": {"field": "v", "type": "quantitative", "scale": {"domain": [0, 0.25], "nice": false}, "title": "BRET² ratio", "axis": {"values": [0, 0.05, 0.1, 0.15, 0.2, 0.25], "format": ".2f", "tickCount": 20, "labelPadding": 4, "titlePadding": 10}}}},
            {"mark": {"type": "point", "shape": "circle", "filled": true, "size": 40, "opacity": 1}, "encoding": {"y": {"field": "v", "type": "quantitative", "scale": {"domain": [0, 0.25], "nice": false}, "title": "BRET² ratio", "axis": {"values": [0, 0.05, 0.1, 0.15, 0.2, 0.25], "format": ".2f", "tickCount": 20, "labelPadding": 4, "titlePadding": 10}}}}
          ]}
        ]
      }
    ]
  }
]
}
